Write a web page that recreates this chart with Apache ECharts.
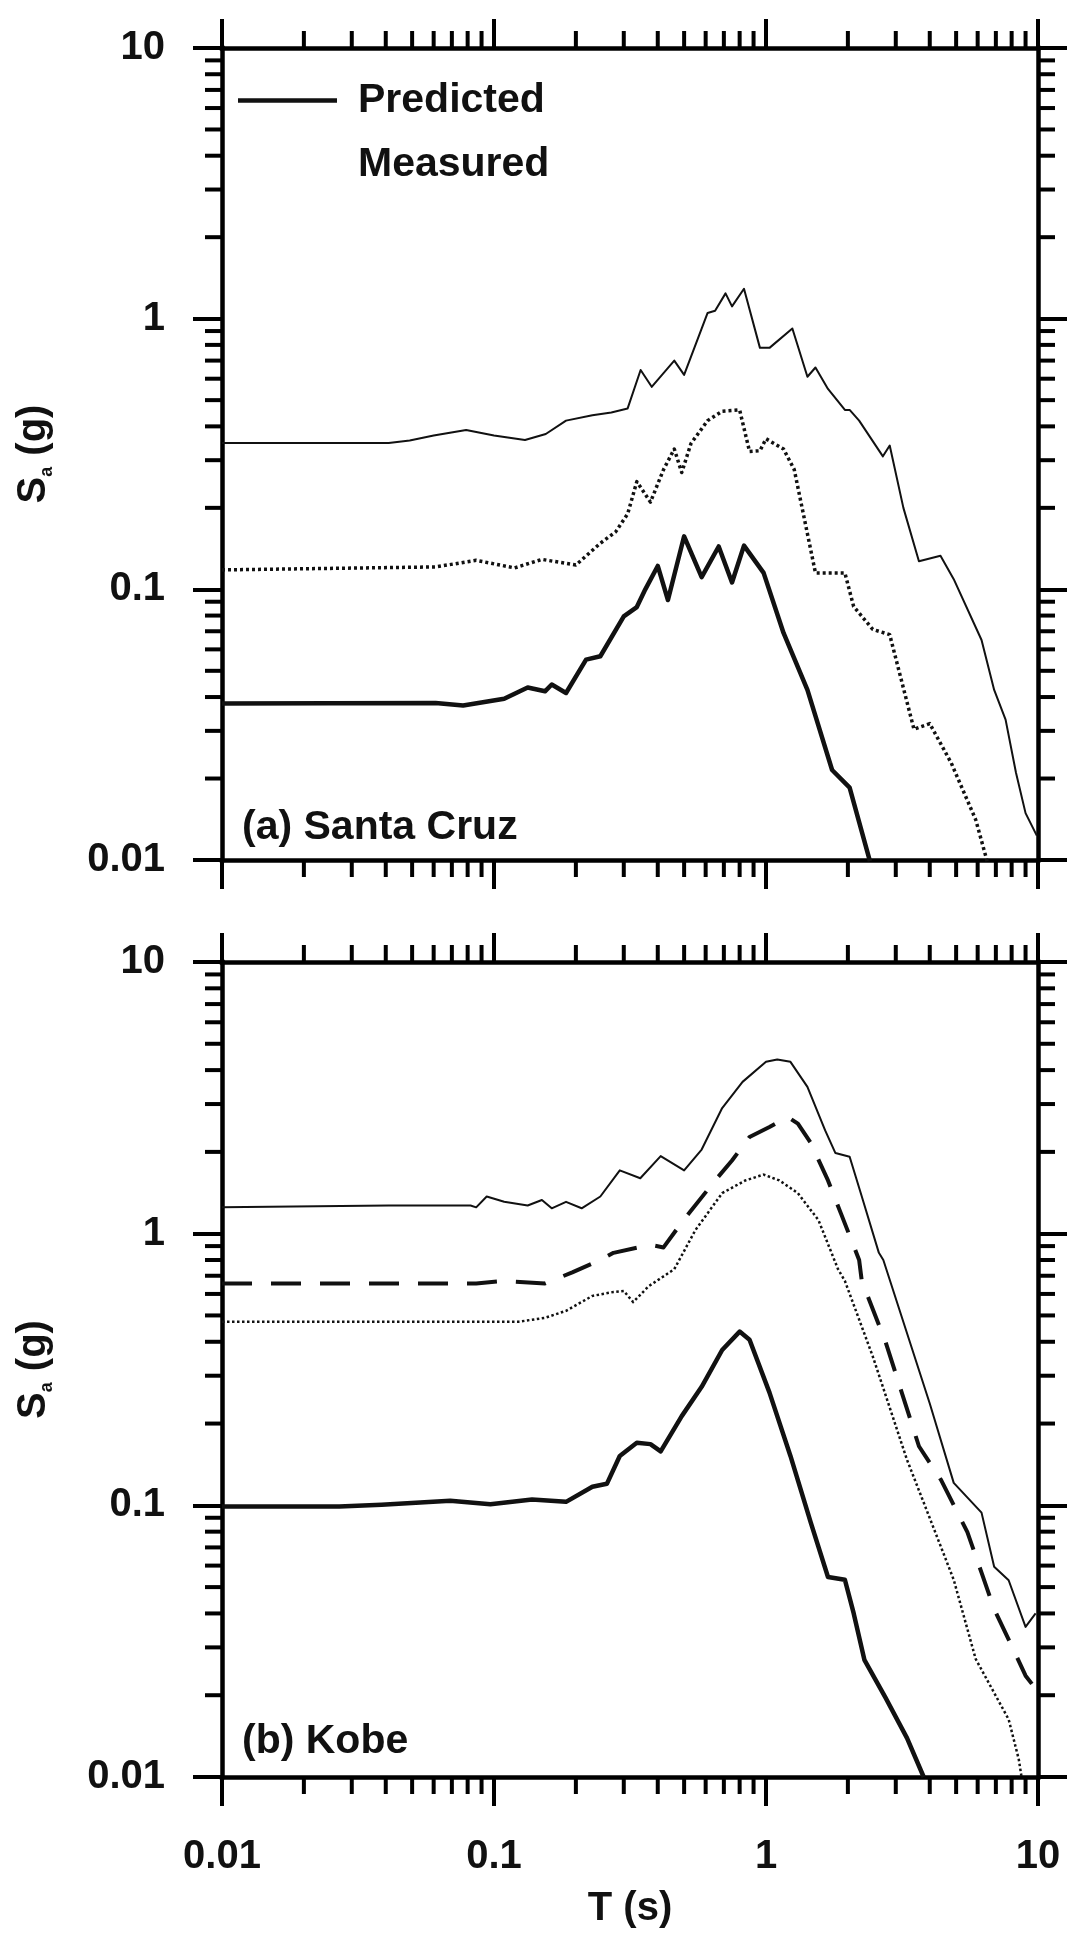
<!DOCTYPE html>
<html><head><meta charset="utf-8">
<script src="https://cdn.jsdelivr.net/npm/echarts@6/dist/echarts.min.js"></script>
<style>html,body{margin:0;padding:0;background:#fff}#c{width:1069px;height:1938px}</style>
</head><body><div id="c"></div>
<script>
// ---- axis ticks ----
const tickLabels = ['0.01', '0.1', '1', '10'];
const minorTicks = [0.02,0.03,0.04,0.05,0.06,0.07,0.08,0.09,0.2,0.3,0.4,0.5,0.6,0.7,0.8,0.9,2,3,4,5,6,7,8,9];
const AX_MIN = 0.01, AX_MAX = 10;

// ---- (a) Santa Cruz : [T (s), Sa (g)] ----
const santaCruzThin = [[0.01,0.347],[0.041,0.347],[0.049,0.355],[0.06,0.37],[0.079,0.388],[0.1,0.37],[0.13,0.356],[0.155,0.375],[0.184,0.42],[0.23,0.44],[0.27,0.45],[0.31,0.466],[0.346,0.646],[0.38,0.56],[0.46,0.70],[0.50,0.62],[0.61,1.05],[0.65,1.07],[0.71,1.24],[0.75,1.11],[0.83,1.29],[0.95,0.78],[1.03,0.78],[1.25,0.92],[1.42,0.61],[1.52,0.66],[1.69,0.55],[1.95,0.46],[2.03,0.46],[2.2,0.42],[2.69,0.31],[2.85,0.34],[3.2,0.2],[3.65,0.127],[4.38,0.133],[4.9,0.109],[6.2,0.065],[6.9,0.0425],[7.6,0.033],[8.3,0.021],[9.0,0.0149],[9.9,0.0123]];
const santaCruzDotted = [[0.01,0.118],[0.061,0.121],[0.086,0.128],[0.119,0.12],[0.15,0.129],[0.2,0.123],[0.246,0.148],[0.28,0.163],[0.31,0.19],[0.335,0.25],[0.376,0.21],[0.42,0.277],[0.46,0.33],[0.49,0.27],[0.53,0.346],[0.61,0.42],[0.69,0.455],[0.80,0.46],[0.87,0.323],[0.95,0.325],[1.0,0.36],[1.16,0.33],[1.27,0.277],[1.52,0.115],[1.95,0.115],[2.1,0.0864],[2.47,0.0711],[2.85,0.068],[3.5,0.0304],[4.0,0.0319],[4.8,0.0228],[5.9,0.0141],[6.5,0.0099]];
const santaCruzThick = [[0.01,0.0379],[0.061,0.038],[0.077,0.0372],[0.109,0.0394],[0.133,0.0434],[0.154,0.042],[0.163,0.0445],[0.184,0.0414],[0.218,0.055],[0.246,0.0566],[0.30,0.0795],[0.335,0.086],[0.36,0.1],[0.40,0.122],[0.436,0.0913],[0.50,0.157],[0.58,0.111],[0.67,0.144],[0.75,0.106],[0.83,0.145],[0.98,0.115],[1.16,0.069],[1.42,0.0425],[1.75,0.0215],[2.03,0.0185],[2.41,0.0099]];

// ---- (b) Kobe : [T (s), Sa (g)] ----
const kobeThin = [[0.01,1.25],[0.041,1.27],[0.082,1.27],[0.086,1.25],[0.094,1.37],[0.109,1.31],[0.133,1.27],[0.15,1.33],[0.163,1.24],[0.184,1.31],[0.21,1.24],[0.246,1.37],[0.29,1.71],[0.345,1.6],[0.41,1.93],[0.50,1.71],[0.58,2.04],[0.69,2.9],[0.82,3.62],[1.0,4.29],[1.1,4.38],[1.23,4.29],[1.42,3.47],[1.65,2.4],[1.8,1.98],[2.03,1.92],[2.25,1.37],[2.6,0.85],[2.7,0.80],[4.0,0.237],[4.9,0.121],[6.2,0.094],[6.9,0.0594],[7.8,0.053],[9.0,0.0357],[9.8,0.040]];
const kobeDashed = [[0.01,0.656],[0.086,0.656],[0.109,0.67],[0.154,0.656],[0.194,0.72],[0.246,0.80],[0.275,0.85],[0.376,0.91],[0.42,0.89],[0.49,1.10],[0.65,1.57],[0.75,1.86],[0.87,2.27],[1.03,2.47],[1.2,2.69],[1.31,2.54],[1.46,2.16],[1.69,1.57],[1.89,1.18],[2.2,0.80],[2.25,0.67],[2.75,0.40],[3.65,0.165],[4.4,0.124],[5.5,0.0797],[6.2,0.0565],[6.9,0.0415],[8.3,0.0281],[9.0,0.0236],[9.5,0.022]];
const kobeDotted = [[0.01,0.474],[0.123,0.474],[0.154,0.49],[0.184,0.52],[0.23,0.59],[0.275,0.61],[0.30,0.615],[0.325,0.56],[0.37,0.64],[0.46,0.74],[0.55,1.03],[0.69,1.41],[0.84,1.57],[0.98,1.65],[1.12,1.57],[1.31,1.41],[1.56,1.12],[1.84,0.74],[1.95,0.67],[2.47,0.353],[3.3,0.147],[4.1,0.0842],[4.9,0.0532],[5.9,0.0272],[7.8,0.0163],[8.5,0.0116],[8.7,0.0100]];
const kobeThick = [[0.01,0.099],[0.027,0.099],[0.0386,0.1004],[0.069,0.104],[0.097,0.101],[0.138,0.105],[0.184,0.103],[0.23,0.117],[0.26,0.12],[0.29,0.152],[0.335,0.17],[0.376,0.168],[0.41,0.158],[0.49,0.213],[0.58,0.273],[0.69,0.373],[0.80,0.436],[0.87,0.407],[1.03,0.26],[1.23,0.152],[1.46,0.0865],[1.69,0.0545],[1.95,0.0532],[2.1,0.0401],[2.3,0.027],[2.75,0.0196],[3.3,0.0139],[3.8,0.0100]];

const FONT = '"Liberation Sans", Arial, sans-serif';
const INK = '#111';

function logAxis(gridIndex, position, showLabel, extra) {
  const horizontal = position === 'bottom' || position === 'top';
  return Object.assign({
    type: 'log', logBase: 10, gridIndex, position, min: AX_MIN, max: AX_MAX,
    axisLine: { show: true, onZero: false, lineStyle: { color: '#000', width: 4.5, cap: 'square' } },
    axisTick: { show: true, inside: false, length: 29, lineStyle: { color: '#000', width: 4 } },
    axisLabel: {
      show: showLabel, color: INK, fontFamily: FONT, fontWeight: 'bold', fontSize: 40,
      margin: horizontal ? 60 : 57,
      formatter: v => tickLabels[Math.round(Math.log10(v)) + 2]
    },
    splitLine: { show: false }, minorTick: { show: false }, minorSplitLine: { show: false }
  }, extra || {});
}

function tickRender(params, api) {
  const v = api.value(0);
  const b = api.coord([v, AX_MIN]), t = api.coord([v, AX_MAX]);
  const l = api.coord([AX_MIN, v]), r = api.coord([AX_MAX, v]);
  const L = 17;
  const st = () => ({ stroke: '#000', lineWidth: 4 });
  return { type: 'group', children: [
    { type: 'line', shape: { x1: b[0], y1: b[1], x2: b[0], y2: b[1] + L }, style: st() },
    { type: 'line', shape: { x1: t[0], y1: t[1], x2: t[0], y2: t[1] - L }, style: st() },
    { type: 'line', shape: { x1: l[0], y1: l[1], x2: l[0] - L, y2: l[1] }, style: st() },
    { type: 'line', shape: { x1: r[0], y1: r[1], x2: r[0] + L, y2: r[1] }, style: st() }
  ]};
}

const yName = {
  name: '{s|S}{sub|a}{s| (g)}', nameLocation: 'middle', nameGap: 166, nameMoveOverlap: false,
  nameTextStyle: { rich: {
    s: { fontFamily: FONT, fontWeight: 'bold', fontSize: 40, color: INK, lineHeight: 44 },
    sub: { fontFamily: FONT, fontWeight: 'bold', fontSize: 18, color: INK, lineHeight: 44, verticalAlign: 'bottom' }
  } }
};

function line(name, data, gi, width, type, color) {
  return {
    name, type: 'line', data, xAxisIndex: gi * 2, yAxisIndex: gi * 2,
    showSymbol: false, symbol: 'none', smooth: false, clip: true, silent: true,
    lineStyle: { color: color || INK, width, type: type || 'solid', cap: 'butt', join: 'round' },
    itemStyle: { color: color || INK }
  };
}

const option = {
  backgroundColor: '#fff',
  animation: false,
  grid: [
    { left: 222, top: 48, width: 816, height: 812, containLabel: false, outerBoundsMode: 'none' },
    { left: 222, top: 962, width: 816, height: 815, containLabel: false, outerBoundsMode: 'none' }
  ],
  xAxis: [
    logAxis(0, 'bottom', false),
    logAxis(0, 'top', false),
    logAxis(1, 'bottom', true, { name: 'T (s)', nameLocation: 'middle', nameGap: 112, nameMoveOverlap: false,
      nameTextStyle: { fontFamily: FONT, fontWeight: 'bold', fontSize: 40, color: INK } }),
    logAxis(1, 'top', false)
  ],
  yAxis: [
    logAxis(0, 'left', true, yName),
    logAxis(0, 'right', false),
    logAxis(1, 'left', true, yName),
    logAxis(1, 'right', false)
  ],
  legend: {
    orient: 'vertical', left: 233, top: 75, itemWidth: 99, itemHeight: 40, itemGap: 23,
    selectedMode: false,
    textStyle: { fontFamily: FONT, fontWeight: 'bold', fontSize: 41, color: INK, padding: [0, 0, 0, 16] },
    data: [
      { name: 'Predicted', icon: 'path://M0,0H99V4.5H0Z', itemStyle: { color: INK } },
      { name: 'Measured', icon: 'path://M0,0H99V4.5H0Z', itemStyle: { opacity: 0 } }
    ]
  },
  graphic: [
    { type: 'text', x: 242, y: 828, style: { text: '(a) Santa Cruz', fill: INK, font: 'bold 41px ' + FONT, verticalAlign: 'middle' } },
    { type: 'text', x: 242, y: 1742, style: { text: '(b) Kobe', fill: INK, font: 'bold 41px ' + FONT, verticalAlign: 'middle' } }
  ],
  series: [
    line('Measured', santaCruzThin, 0, 2),
    line('Santa Cruz (dotted)', santaCruzDotted, 0, 3.5, [3, 3]),
    line('Predicted', santaCruzThick, 0, 4.5),
    line('Measured', kobeThin, 1, 2),
    line('Kobe (dashed)', kobeDashed, 1, 4, [30, 19]),
    line('Kobe (dotted)', kobeDotted, 1, 2.5, [2.5, 2.5]),
    line('Predicted', kobeThick, 1, 4.5),
    { type: 'custom', name: 'minor ticks a', xAxisIndex: 0, yAxisIndex: 0, silent: true, clip: false,
      data: minorTicks.map(v => [v, v]), encode: { x: 0, y: 1 }, renderItem: tickRender, z: 5 },
    { type: 'custom', name: 'minor ticks b', xAxisIndex: 2, yAxisIndex: 2, silent: true, clip: false,
      data: minorTicks.map(v => [v, v]), encode: { x: 0, y: 1 }, renderItem: tickRender, z: 5 }
  ]
};

const chart = echarts.init(document.getElementById('c'), null, { renderer: 'canvas' });
chart.setOption(option);
</script>
</body></html>
